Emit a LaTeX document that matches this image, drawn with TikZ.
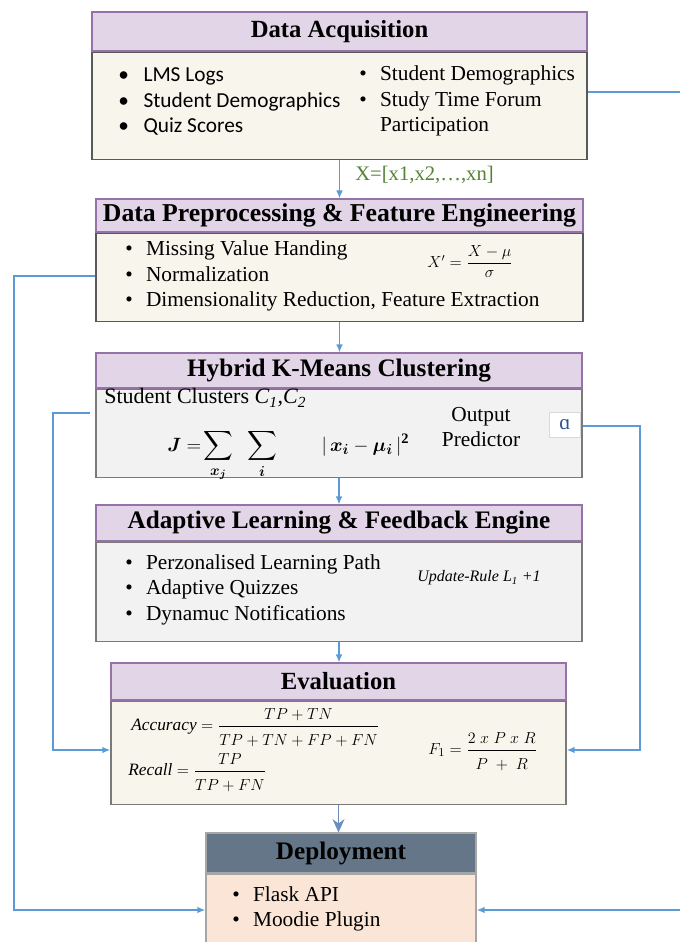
\documentclass[tikz,border=0pt]{standalone}
\usepackage{amsmath}
\usepackage{amssymb}
\usepackage{fontspec}
\setmainfont{Liberation Serif}
\newfontfamily\calibri{Carlito}
\usepackage{tikz}
\usetikzlibrary{positioning}
\usetikzlibrary{arrows.meta}
\newdimen\pxu
\pxu=0.75pt
\definecolor{headfill}{HTML}{E1D5E7}
\definecolor{headline}{HTML}{9673A6}
\definecolor{creamfill}{HTML}{F8F5ED}
\definecolor{grayfill}{HTML}{F2F2F2}
\definecolor{bodyline}{HTML}{595959}
\definecolor{connblue}{HTML}{5B9BD5}
\definecolor{darkarrow}{HTML}{6C8EBF}
\definecolor{depfill}{HTML}{647687}
\definecolor{peach}{HTML}{FBE5D6}
\definecolor{depline}{HTML}{A6A6A6}
\definecolor{labelgreen}{HTML}{548235}
\definecolor{alphablue}{HTML}{2F5597}
\tikzstyle{head}=[draw=headline, fill=headfill, line width=0.8pt, inner sep=0pt, font=\fontsize{18.9}{22}\selectfont\bfseries]
\tikzstyle{body}=[draw=bodyline, fill=creamfill, line width=1pt, inner sep=0pt]
\tikzstyle{txt}=[inner sep=0pt, anchor=west, align=left, font=\fontsize{16}{19.2}\selectfont]
\tikzstyle{eqn}=[inner sep=0pt, anchor=base west]
\tikzstyle{link}=[draw=connblue, line width=1.1pt]
\tikzstyle{flow}=[link, -{Latex[length=6pt,width=5pt]}]
\newcommand{\bul}{\textbullet\hspace{10pt}}
\newcommand{\numsp}{\rule[-3pt]{0pt}{0pt}}
\newcommand{\densp}{\rule{0pt}{13pt}}

\begin{document}
\begin{tikzpicture}[x=0.75pt, y=-0.75pt]
    \useasboundingbox (0,0) rectangle (679,942);
    % boxes
    \node[head, font=\fontsize{18.5}{22}\selectfont\bfseries, minimum width=495\pxu, minimum height=39\pxu] (acqhead) at (339.5, 31.5) {Data Acquisition};
    \node[body, minimum width=495\pxu, minimum height=107\pxu, below=0pt of acqhead] (acqbody) {};
    \node[head, font=\fontsize{19.3}{22}\selectfont\bfseries, minimum width=487\pxu, minimum height=33\pxu] (prephead) at (339.5, 215.5) {Data Preprocessing \& Feature Engineering};
    \node[body, minimum width=487\pxu, minimum height=88\pxu, below=0pt of prephead] (prepbody) {};
    \node[head, minimum width=486\pxu, minimum height=35\pxu] (cluhead) at (339, 370.5) {Hybrid K-Means Clustering};
    \node[body, fill=grayfill, draw=bodyline!80, minimum width=486\pxu, minimum height=88\pxu, below=0pt of cluhead] (clubody) {};
    \node[head, minimum width=486\pxu, minimum height=36\pxu] (adahead) at (339, 523) {Adaptive Learning \& Feedback Engine};
    \node[body, fill=grayfill, draw=bodyline!80, minimum width=486\pxu, minimum height=99\pxu, below=0pt of adahead] (adabody) {};
    \node[head, font=\fontsize{18.5}{22}\selectfont\bfseries, minimum width=455\pxu, minimum height=37\pxu] (evalhead) at (338.5, 681.5) {Evaluation};
    \node[body, draw=bodyline!80, minimum width=455\pxu, minimum height=103\pxu, below=0pt of evalhead] (evalbody) {};
    \node[head, draw=depline, fill=depfill, minimum width=270\pxu, minimum height=40\pxu] (dephead) at (341, 853) {Deployment};
    \node[body, draw=depline, fill=peach, minimum width=270\pxu, minimum height=80\pxu, below=0pt of dephead] (depbody) {};

    % box texts
    \node[txt, font=\fontsize{16}{19.2}\selectfont\calibri] (acqleft) at (118, 101.5) {\textbullet\hspace{11pt}LMS Logs\\ \textbullet\hspace{11pt}Student Demographics\\ \textbullet\hspace{11pt}Quiz Scores};
    \node[txt] (acqright) at (359, 101) {\bul Student Demographics\\ \bul Study Time Forum\\ \hphantom{\bul}Participation};
    \node[txt, font=\fontsize{15.5}{18}\selectfont, text=labelgreen] (xvec) at (355, 175) {X=[x1,x2,…,xn]};
    \node[txt] (preplist) at (125, 276) {\bul Missing Value Handing\\ \bul Normalization\\ \bul Dimensionality Reduction, Feature Extraction};
    \node[eqn, font=\fontsize{11.5}{13}\selectfont] (zscore) at (427, 267) {$X' = \dfrac{X-\mu}{\sigma}$};
    \node[txt, font=\fontsize{16.5}{19.2}\selectfont] (clusters) at (104, 398) {Student Clusters \textit{C\textsubscript{1},C\textsubscript{2}}};
    \node[eqn, font=\fontsize{15.5}{18}\selectfont] (kmeans) at (167, 451) {$\displaystyle \boldsymbol{J}=\!\sum_{\boldsymbol{x_j}}\;\;\sum_{\boldsymbol{i}}\qquad|\,\boldsymbol{x_i}-\boldsymbol{\mu_i}\,|^{\mathbf{2}}$};
    \node[txt, anchor=center, align=center] (predictor) at (481, 427) {Output\\Predictor};
    \node[draw=black!15, fill=white, line width=0.5pt, inner sep=0pt, minimum width=31\pxu, minimum height=25\pxu, text=alphablue, font=\fontsize{16}{19}\selectfont] (alphanode) at (565, 425) {ɑ};
    \node[txt] (adalist) at (125, 589.5) {\bul Perzonalised Learning Path\\ \bul Adaptive Quizzes\\ \bul Dynamuc Notifications};
    \node[txt, font=\fontsize{12}{14}\selectfont\itshape] (update) at (417, 578) {Update-Rule L\textsubscript{1} +1};
    \node[eqn, font=\fontsize{13}{15}\selectfont] (accuracy) at (131, 730) {$\mathit{Accuracy} = \dfrac{TP+TN\numsp}{\densp TP+TN+FP+FN}$};
    \node[eqn, font=\fontsize{13}{15}\selectfont] (recall) at (128, 775) {$\mathit{Recall} = \dfrac{TP\numsp}{\densp TP+FN}$};
    \node[eqn, font=\fontsize{13}{15}\selectfont] (fscore) at (428, 754) {$F_1 = \dfrac{2\;x\;P\;x\;R\numsp}{\densp P\;+\;R}$};
    \node[txt] (deplist) at (232, 909) {\bul Flask API\\ \bul Moodie Plugin};

    % main flow
    \draw[flow] (acqbody.south) -- (prephead.north);
    \draw[flow] (prepbody.south) -- (prephead.north |- cluhead.north);
    \draw[flow] (clubody.south) -- (adahead.north);
    \draw[flow] (adabody.south) -- (adahead.south |- evalhead.north);
    \draw[link, draw=darkarrow, -{Stealth[length=10pt,width=9pt]}] (evalbody.south) -- (evalbody.south |- dephead.north);

    % side links
    \coordinate (rtop) at (720, 92);
    \coordinate (rbot) at (720, 910);
    \draw[flow] (acqbody.east |- rtop) -- (rtop) -- (rbot) -- (depbody.east |- rbot);
    \coordinate (ltop) at (14, 276);
    \coordinate (lbot) at (14, 910);
    \draw[flow] (prepbody.west |- ltop) -- (ltop) -- (lbot) -- (depbody.west |- lbot);
    \coordinate (cstart) at (90, 413);
    \coordinate (ctop) at (53, 413);
    \coordinate (cbot) at (53, 750);
    \draw[flow] (cstart) -- (ctop) -- (cbot) -- (evalbody.west |- cbot);
    \coordinate (atop) at (640, 426);
    \coordinate (abot) at (640, 750);
    \draw[flow] (clubody.east |- atop) -- (atop) -- (abot) -- (evalbody.east |- abot);
\end{tikzpicture}
\end{document}
